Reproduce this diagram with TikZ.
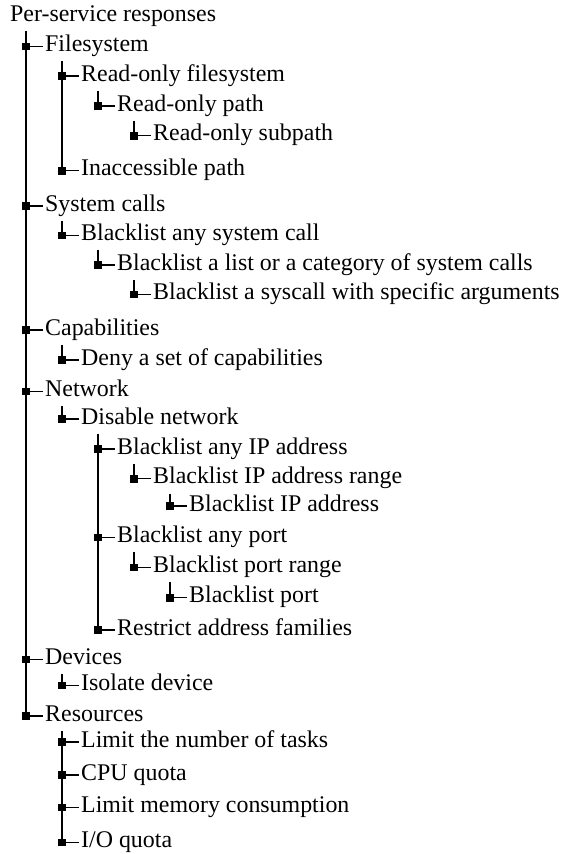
\documentclass[tikz,border=0pt]{standalone}
\usepackage{fontspec}
\setmainfont{Liberation Serif}
\begin{document}
\begin{tikzpicture}[x=1pt,y=-1pt,
  lbl/.style={anchor=west, inner sep=0pt, text height=20pt, text depth=9.5pt,
    font=\fontsize{23.9pt}{28pt}\selectfont},
  sq/.style={fill=black, inner sep=0pt, minimum size=7.6pt},
  conn/.style={line width=1.1pt, black}]
\useasboundingbox (0,0) rectangle (564,854);
% text nodes
\node[lbl] (t0) at (10,16) {Per-service responses};
\node[lbl] (a) at (45,46.5) {Filesystem};
\node[lbl] (a1) at (81,76) {Read-only filesystem};
\node[lbl] (a11) at (117,106) {Read-only path};
\node[lbl] (a111) at (153,135.7) {Read-only subpath};
\node[lbl] (a2) at (81,170.7) {Inaccessible path};
\node[lbl] (b) at (45,206) {System calls};
\node[lbl] (b1) at (81,235.3) {Blacklist any system call};
\node[lbl] (b11) at (117,265) {Blacklist a list or a category of system calls};
\node[lbl] (b111) at (153,294.3) {Blacklist a syscall with specific arguments};
\node[lbl] (c) at (45,330) {Capabilities};
\node[lbl] (c1) at (81,360) {Deny a set of capabilities};
\node[lbl] (d) at (45,391.3) {Network};
\node[lbl] (d1) at (81,419) {Disable network};
\node[lbl] (d11) at (117,449) {Blacklist any IP address};
\node[lbl] (d111) at (153,478.7) {Blacklist IP address range};
\node[lbl] (d1111) at (189,506) {Blacklist IP address};
\node[lbl] (d12) at (117,537.3) {Blacklist any port};
\node[lbl] (d121) at (153,567.3) {Blacklist port range};
\node[lbl] (d1211) at (189,597.7) {Blacklist port};
\node[lbl] (d13) at (117,630) {Restrict address families};
\node[lbl] (e) at (45,659.3) {Devices};
\node[lbl] (e1) at (81,685.3) {Isolate device};
\node[lbl] (f) at (45,716) {Resources};
\node[lbl] (f1) at (81,742) {Limit the number of tasks};
\node[lbl] (f2) at (81,775) {CPU quota};
\node[lbl] (f3) at (81,807.3) {Limit memory consumption};
\node[lbl] (f4) at (81,842.3) {I/O quota};
% squares
\foreach \n in {a,a1,a11,a111,a2,b,b1,b11,b111,c,c1,d,d1,d11,d111,d1111,d12,d121,d1211,d13,e,e1,f,f1,f2,f3,f4}{
  \node[sq] (s-\n) at ([xshift=-19pt]\n.west) {};
  \draw[conn] (s-\n.center) -- ([xshift=-2pt]\n.west);
}
% vertical connectors: parent / last child
\foreach \p/\c in {t0/f,a/a2,a1/a11,a11/a111,b/b1,b1/b11,b11/b111,c/c1,d/d1,d1/d13,d11/d111,d111/d1111,d12/d121,d121/d1211,e/e1,f/f4}{
  \draw[conn] (s-\c.center |- \p.south) -- (s-\c.center);
}
\end{tikzpicture}
\end{document}
